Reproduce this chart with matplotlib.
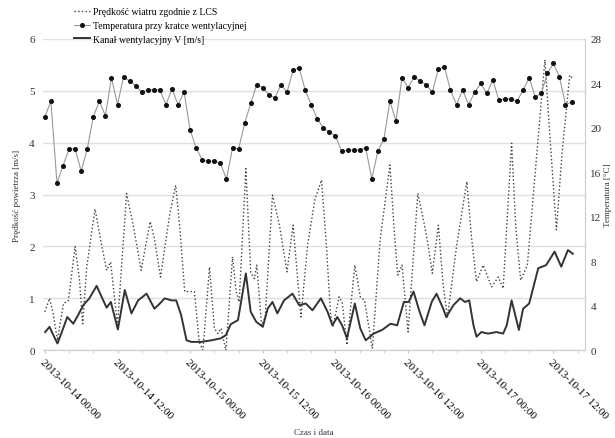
import matplotlib.pyplot as plt
import numpy as np
from matplotlib.ticker import MultipleLocator

plt.rcParams['font.family'] = ['Liberation Serif', 'DejaVu Serif']

# godziny od 2013-10-14 00:00
tick_h = [0, 12, 24, 36, 48, 60, 72, 84]
tick_labels = ['2013-10-14 00:00', '2013-10-14 12:00', '2013-10-15 00:00', '2013-10-15 12:00',
               '2013-10-16 00:00', '2013-10-16 12:00', '2013-10-17 00:00', '2013-10-17 12:00']

# temperatura przy kratce, pomiar co godzine [C]
temp_h = np.arange(88)
temp_c = [21.0, 22.4, 15.0, 16.6, 18.1, 18.1, 16.1, 18.1, 21.0, 22.4,
          21.1, 24.5, 22.1, 24.6, 24.2, 23.8, 23.2, 23.4, 23.4, 23.4,
          22.1, 23.5, 22.1, 23.2, 19.8, 18.2, 17.1, 17.0, 17.0, 16.8,
          15.4, 18.2, 18.1, 20.4, 22.2, 23.9, 23.6, 23.0, 22.7, 23.9,
          23.2, 25.2, 25.4, 23.4, 22.1, 20.8, 20.0, 19.6, 19.3, 17.9,
          18.0, 18.0, 18.0, 18.2, 15.4, 17.9, 19.0, 22.4, 20.6, 24.5,
          23.6, 24.6, 24.2, 23.9, 23.2, 25.3, 25.5, 23.4, 22.1, 23.4,
          22.1, 23.2, 24.0, 23.1, 24.3, 22.5, 22.6, 22.6, 22.4, 23.4,
          24.5, 22.8, 23.1, 24.9, 25.8, 24.6, 22.1, 22.3]

# predkosc wiatru wg LCS [m/s]
wind_h = [0.0, 0.77, 1.32, 2.08, 3.07, 3.89, 4.99, 5.7, 6.25, 6.91, 8.28, 9.37, 10.2, 10.86, 12.0,
          13.5, 14.6, 15.9, 17.4, 18.1, 19.1, 20.6, 21.6, 22.26, 23.1, 24.7, 25.5, 26.1, 27.2, 28.0,
          28.6, 29.1, 29.9, 31.0, 31.6, 32.1, 33.2, 34.0, 34.6, 35.0, 35.8, 36.4, 37.6, 38.7, 40.0,
          41.0, 42.3, 43.4, 44.6, 45.7, 46.5, 47.2, 47.6, 48.6, 49.1, 49.9, 51.2, 52.1, 52.8, 54.1,
          55.4, 57.0, 57.8, 58.3, 59.0, 60.0, 61.6, 62.6, 63.3, 64.0, 65.0, 65.8, 66.5, 68.0, 69.7,
          70.5, 71.3, 72.4, 73.8, 74.9, 75.7, 77.1, 77.8, 78.6, 79.7, 81.2, 82.6, 83.5, 84.5, 85.4,
          86.7, 87.2]
wind_v = [0.74, 1.0, 0.74, 0.19, 0.9, 0.96, 2.0, 1.38, 0.51, 1.6, 2.72, 2.03, 1.54, 1.7, 0.48,
          3.02, 2.41, 1.54, 2.48, 2.15, 1.41, 2.6, 3.18, 2.41, 1.13, 1.13, 0.16, 0.0, 1.6, 0.42,
          0.32, 0.42, 0.0, 1.8, 1.13, 0.93, 3.5, 1.5, 1.38, 1.64, 0.48, 0.64, 2.99, 2.44, 1.51,
          2.41, 0.64, 2.03, 2.9, 3.28, 2.03, 0.68, 0.45, 1.03, 0.93, 0.1, 1.64, 1.03, 0.96, 0.03,
          2.15, 3.57, 2.15, 1.45, 1.64, 0.35, 3.02, 2.48, 2.03, 1.48, 2.41, 1.25, 0.64, 2.0, 3.25,
          2.15, 1.32, 1.64, 1.22, 1.41, 1.19, 3.99, 2.35, 1.35, 1.64, 3.7, 5.6, 4.0, 2.32, 3.76,
          5.3, 5.24]

# kanal wentylacyjny V [m/s]
kanal_h = [0.05, 0.77, 1.4, 2.08, 2.8, 3.7, 4.7, 5.5, 6.36, 7.35, 8.55, 9.37, 10.2, 10.9, 12.06,
           13.2, 14.3, 15.4, 16.8, 18.1, 19.0, 19.8, 20.9, 21.7, 22.5, 23.4, 24.2, 25.8, 27.5, 29.1,
           29.9, 30.7, 31.9, 33.2, 34.0, 34.9, 36.0, 36.8, 37.6, 38.4, 39.5, 40.9, 42.0, 43.1, 44.2,
           45.6, 46.7, 47.5, 48.3, 49.1, 49.9, 51.2, 52.1, 53.0, 54.3, 55.7, 57.1, 58.2, 59.3, 60.1,
           60.9, 61.9, 62.7, 63.9, 64.7, 65.8, 66.3, 67.5, 68.6, 69.4, 70.1, 70.8, 71.3, 72.1, 73.2,
           74.6, 75.7, 76.3, 77.1, 78.3, 79.0, 80.0, 81.5, 82.8, 84.2, 85.3, 86.4, 87.2]
kanal_v = [0.35, 0.45, 0.29, 0.13, 0.35, 0.64, 0.51, 0.68, 0.87, 1.0, 1.24, 1.03, 0.82, 0.93, 0.4,
           1.16, 0.71, 0.96, 1.09, 0.8, 0.9, 1.0, 0.96, 0.96, 0.68, 0.19, 0.16, 0.16, 0.19, 0.23,
           0.29, 0.5, 0.58, 1.48, 0.74, 0.55, 0.45, 0.8, 0.93, 0.71, 0.96, 1.09, 0.87, 0.9, 0.77,
           1.0, 0.74, 0.48, 0.64, 0.48, 0.23, 0.9, 0.42, 0.19, 0.32, 0.39, 0.51, 0.48, 0.93, 0.93,
           1.13, 0.74, 0.48, 0.93, 1.09, 0.8, 0.64, 0.87, 1.0, 0.93, 0.96, 0.48, 0.26, 0.35, 0.32,
           0.35, 0.32, 0.48, 0.96, 0.39, 0.8, 0.9, 1.58, 1.64, 1.9, 1.61, 1.93, 1.86]

fig = plt.figure(figsize=(6.15, 4.39), dpi=100)
ax = fig.add_axes([0.07, 0.2, 0.881, 0.709])
ax2 = ax.twinx()

l1, = ax.plot(wind_h, wind_v, color='#404040', linestyle=':', linewidth=1.0,
              label='Prędkość wiatru zgodnie z LCS')
l3, = ax.plot(kanal_h, kanal_v, color='#333333', linewidth=1.4,
              label='Kanał wentylacyjny V [m/s]')
l2, = ax2.plot(temp_h, temp_c, color='#999999', linewidth=0.8, marker='o', markersize=2.6,
               markerfacecolor='#111111', markeredgecolor='#111111',
               label='Temperatura przy kratce wentylacyjnej')

ax.set_xlim(-0.3, 89.2)
ax.set_ylim(0, 6)
ax2.set_ylim(0, 28)
ax.set_yticks(range(0, 7))
ax2.set_yticks(range(0, 29, 4))
ax.grid(axis='y', color='#e0e0e0', linewidth=1)
ax.set_axisbelow(True)

ax.set_xticks(tick_h)
ax.set_xticklabels(tick_labels, rotation=-45, ha='left', va='top', rotation_mode='anchor', fontsize=8)
ax.xaxis.set_minor_locator(MultipleLocator(4))
ax.tick_params(axis='x', which='both', length=2, color='#c8c8c8', pad=3)
ax.tick_params(axis='y', length=0, labelsize=8, colors='#333333', pad=6)
ax2.tick_params(axis='y', length=0, labelsize=8, colors='#333333', pad=4)

for a in (ax, ax2):
    a.spines['top'].set_visible(False)
    a.spines['left'].set_visible(False)
    a.spines['bottom'].set_color('#d0d0d0')
    a.spines['right'].set_color('#d0d0d0')

ax.set_ylabel('Prędkość powietrza [m/s]', fontsize=6.5, color='#333333', labelpad=6)
ax2.set_ylabel('Temperatura [°C]', fontsize=6.5, color='#333333', labelpad=2)
ax.set_xlabel('Czas i data', fontsize=6.5, color='#333333', labelpad=6)

ax.legend(handles=[l1, l2, l3], loc='upper left', bbox_to_anchor=(0.05, 1.115), frameon=False,
          fontsize=7, handlelength=1.6, handletextpad=0.4, labelspacing=0.5, borderaxespad=0)

plt.savefig('out.png', dpi=100)
plt.close()
